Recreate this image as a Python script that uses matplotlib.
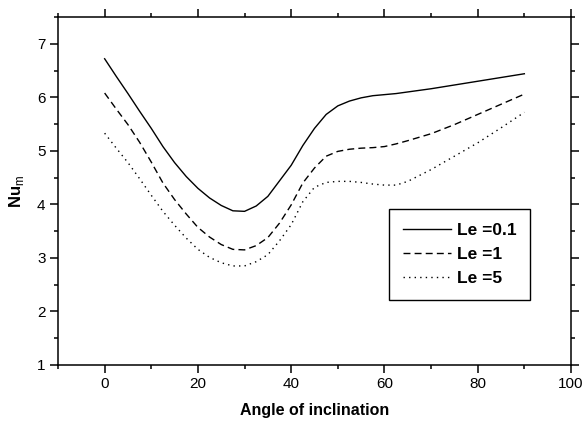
import matplotlib
matplotlib.use('Agg')
import matplotlib.pyplot as plt
from matplotlib.ticker import MultipleLocator

plt.rcParams['font.family'] = ['Liberation Sans', 'DejaVu Sans']
plt.rcParams['mathtext.fontset'] = 'custom'
plt.rcParams['mathtext.rm'] = 'Liberation Sans'
plt.rcParams['mathtext.bf'] = 'Liberation Sans:bold'

# angle of inclination (deg)
angle = [0, 2.5, 5, 7.5, 10, 12.5, 15, 17.5, 20, 22.5, 25, 27.5, 30, 32.5, 35,
         37.5, 40, 42.5, 45, 47.5, 50, 52.5, 55, 57.5, 60, 62.5, 65, 70, 75, 80, 85, 90]

nu_le01 = [6.72, 6.39, 6.07, 5.74, 5.42, 5.08, 4.78, 4.52, 4.30, 4.12, 3.98, 3.88, 3.87, 3.97, 4.15,
           4.44, 4.73, 5.10, 5.42, 5.68, 5.84, 5.93, 5.99, 6.03, 6.05, 6.07, 6.10, 6.16, 6.23, 6.30, 6.37, 6.44]
nu_le1 = [6.08, 5.78, 5.49, 5.16, 4.79, 4.40, 4.09, 3.82, 3.57, 3.39, 3.25, 3.16, 3.15, 3.23, 3.38,
          3.65, 3.99, 4.40, 4.68, 4.90, 4.99, 5.03, 5.05, 5.06, 5.08, 5.13, 5.19, 5.32, 5.49, 5.68, 5.87, 6.06]
nu_le5 = [5.33, 5.05, 4.78, 4.48, 4.17, 3.87, 3.61, 3.37, 3.16, 3.01, 2.91, 2.85, 2.85, 2.93, 3.06,
          3.32, 3.62, 4.05, 4.32, 4.41, 4.43, 4.43, 4.41, 4.38, 4.36, 4.36, 4.43, 4.65, 4.90, 5.15, 5.43, 5.72]

labels = ['Le =0.1', 'Le =1', 'Le =5']

fig = plt.figure(figsize=(5.84, 4.25), dpi=100)
ax = fig.add_axes([58/584, 1-365/425, 513/584, 348/425])

ax.plot(angle, nu_le01, color='black', lw=1.0, linestyle='-', label=labels[0])
ax.plot(angle, nu_le1, color='black', lw=1.0, linestyle=(0, (5, 3)), label=labels[1])
ax.plot(angle, nu_le5, color='black', lw=1.0, linestyle=(0, (1, 3)), label=labels[2])

ax.set_xlim(-10, 100)
ax.set_ylim(1, 7.5)
ax.xaxis.set_major_locator(MultipleLocator(20))
ax.xaxis.set_minor_locator(MultipleLocator(10))
ax.yaxis.set_major_locator(MultipleLocator(1))
ax.yaxis.set_minor_locator(MultipleLocator(0.5))
ax.tick_params(which='both', direction='out', top=True, right=True, width=1.1,
               labelsize=11, colors='black')
ax.tick_params(which='major', length=5.5)
ax.tick_params(which='minor', length=3)
for sp in ax.spines.values():
    sp.set_linewidth(1.1)

ax.set_xlabel('Angle of inclination', fontsize=11.5, fontweight='bold', labelpad=8)
ax.set_ylabel(r'$\mathbf{Nu}_{\mathrm{m}}$', fontsize=12, labelpad=8)

leg = ax.legend(loc='upper left', bbox_to_anchor=(0.645, 0.448), borderaxespad=0,
                fancybox=False, edgecolor='black', framealpha=1, handlelength=2.8,
                prop={'weight': 'bold', 'size': 12.5}, labelspacing=0.5,
                borderpad=0.8, handletextpad=0.3)
leg.get_frame().set_linewidth(1.0)

fig.savefig('out.png', dpi=100)
